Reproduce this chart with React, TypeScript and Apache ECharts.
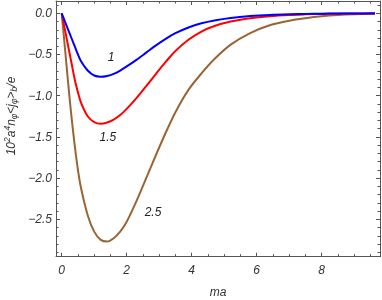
import React, { useEffect, useRef } from 'react';
import * as echarts from 'echarts';

const maValues = [0, 0.1, 0.2, 0.3, 0.4, 0.5, 0.6, 0.8, 1.0, 1.2, 1.4, 1.6, 1.8, 2.0, 2.3, 2.6, 2.9, 3.2, 3.5, 3.9, 4.3, 4.7, 5.2, 5.8, 6.4, 7.0, 7.5, 8.0, 8.5, 9.0, 9.64];
const curve1 = [0, -0.10, -0.2, -0.3, -0.4, -0.5, -0.585, -0.695, -0.755, -0.77, -0.76, -0.735, -0.695, -0.645, -0.565, -0.478, -0.39, -0.31, -0.242, -0.172, -0.122, -0.087, -0.057, -0.034, -0.02, -0.012, -0.008, -0.005, -0.003, -0.002, -0.001];
const curve15 = [0, -0.2, -0.4, -0.6, -0.8, -0.96, -1.09, -1.25, -1.32, -1.34, -1.325, -1.29, -1.235, -1.16, -1.03, -0.885, -0.735, -0.59, -0.458, -0.322, -0.222, -0.155, -0.1, -0.06, -0.035, -0.02, -0.013, -0.008, -0.005, -0.003, -0.002];
const curve25 = [0, -0.42, -0.85, -1.25, -1.6, -1.9, -2.13, -2.45, -2.65, -2.75, -2.77, -2.73, -2.65, -2.53, -2.28, -2.0, -1.72, -1.45, -1.2, -0.93, -0.73, -0.555, -0.38, -0.24, -0.145, -0.09, -0.06, -0.037, -0.022, -0.013, -0.007];

const curveNames = ['1', '1.5', '2.5'];
const curveColors = ['#0000ff', '#ff0000', '#996633'];
const curveLabelPos = [[1.52, -0.53], [1.42, -1.5], [2.81, -2.41]];

const xMajorTicks = [0, 2, 4, 6, 8];
const xMinorTicks = [0.5, 1, 1.5, 2.5, 3, 3.5, 4.5, 5, 5.5, 6.5, 7, 7.5, 8.5, 9, 9.5];
const yMajorTicks = [0, -0.5, -1.0, -1.5, -2.0, -2.5];
const yMinorTicks = [0.1, -0.1, -0.2, -0.3, -0.4, -0.6, -0.7, -0.8, -0.9, -1.1, -1.2, -1.3, -1.4, -1.6, -1.7, -1.8, -1.9, -2.1, -2.2, -2.3, -2.4, -2.6, -2.7, -2.8, -2.9];

const X_MIN = -0.175;
const X_MAX = 9.794;
const Y_MIN = -2.954;
const Y_MAX = 0.149;

const FRAME = '#555555';
const FONT = '"Liberation Sans", Arial, sans-serif';

export default function App() {
  const ref = useRef<HTMLDivElement>(null);
  useEffect(() => {
    document.body.style.margin = '0';
    const chart = echarts.init(ref.current!, null, { renderer: 'svg' });

    const mkX = (position: 'top' | 'bottom', ticks: number[], len: number, labels: boolean, line: boolean) => ({
      type: 'value', position, min: X_MIN, max: X_MAX,
      axisLine: { show: line, onZero: false, lineStyle: { color: FRAME, width: 1 } },
      axisTick: { show: true, inside: true, length: len, customValues: ticks, lineStyle: { color: FRAME, width: 1 } },
      axisLabel: labels
        ? { show: true, customValues: ticks, margin: 7, color: '#333', fontSize: 12, fontStyle: 'italic', fontFamily: FONT, formatter: (v: number) => String(v) }
        : { show: false },
      splitLine: { show: false },
    });
    const mkY = (position: 'left' | 'right', ticks: number[], len: number, labels: boolean, line: boolean) => ({
      type: 'value', position, min: Y_MIN, max: Y_MAX,
      axisLine: { show: line, onZero: false, lineStyle: { color: FRAME, width: 1 } },
      axisTick: { show: true, inside: true, length: len, customValues: ticks, lineStyle: { color: FRAME, width: 1 } },
      axisLabel: labels
        ? { show: true, customValues: ticks, margin: 4, color: '#333', fontSize: 12, fontStyle: 'italic', fontFamily: FONT, formatter: (v: number) => v.toFixed(1).replace('-', '\u2212') }
        : { show: false },
      splitLine: { show: false },
    });

    const curves = [curve1, curve15, curve25];
    chart.setOption({
      animation: false,
      grid: { left: 56, top: 1, right: 2, bottom: 43.3, containLabel: false },
      xAxis: [
        mkX('bottom', xMajorTicks, 4, true, true),
        mkX('bottom', xMinorTicks, 2.5, false, false),
        mkX('top', xMajorTicks, 4, false, true),
        mkX('top', xMinorTicks, 2.5, false, false),
      ],
      yAxis: [
        mkY('left', yMajorTicks, 4, true, true),
        mkY('left', yMinorTicks, 2.5, false, false),
        mkY('right', yMajorTicks, 4, false, true),
        mkY('right', yMinorTicks, 2.5, false, false),
      ],
      series: curves.map((c, i) => ({
        type: 'line',
        name: curveNames[i],
        xAxisIndex: 0,
        yAxisIndex: 0,
        data: maValues.map((x, j) => [x, c[j]]),
        showSymbol: false,
        symbol: 'none',
        smooth: 0.3,
        lineStyle: { color: curveColors[i], width: 2 },
        z: 3 - i,
        markPoint: {
          symbol: 'circle', symbolSize: 0,
          data: [{ coord: curveLabelPos[i], value: curveNames[i] }],
          label: { show: true, position: 'inside', formatter: curveNames[i], color: '#222', fontSize: 12, fontStyle: 'italic', fontFamily: FONT },
        },
      })),
      graphic: [
        {
          type: 'text', x: 11, y: 116, rotation: Math.PI / 2,
          style: {
            text: '{b|10}{sup|2}{b|a}{sup|4}{b|n}{sub|\u03c6}{b|<j}{sub|\u03c6}{b|>}{sub|b}{b|/e}',
            align: 'center', verticalAlign: 'middle',
            rich: {
              b: { fontSize: 12, fontStyle: 'italic', fontFamily: FONT, fill: '#333' },
              sup: { fontSize: 8.5, fontStyle: 'italic', fontFamily: FONT, fill: '#333', padding: [0, 0, 8, 0] },
              sub: { fontSize: 8.5, fontStyle: 'italic', fontFamily: FONT, fill: '#333', padding: [6, 0, 0, 0] },
            },
          },
        },
        {
          type: 'text', x: 218, y: 292,
          style: { text: 'ma', align: 'center', verticalAlign: 'middle', fontSize: 12, fontStyle: 'italic', fontFamily: FONT, fill: '#333' },
        },
      ],
    });
    return () => chart.dispose();
  }, []);
  return <div ref={ref} style={{ position: 'fixed', left: 0, top: 0, width: 382, height: 300 }} />;
}
